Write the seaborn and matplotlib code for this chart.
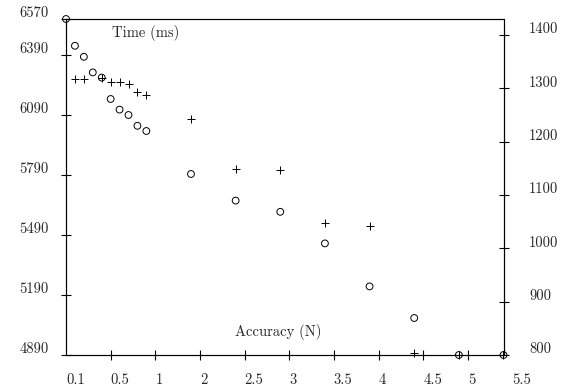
import matplotlib
matplotlib.use('Agg')
import matplotlib.pyplot as plt
import matplotlib.transforms as mtransforms
import seaborn as sns
import numpy as np
import pandas as pd

# accuracy values (x) and the two measured series
acc_time = [0.1, 0.2, 0.3, 0.4, 0.5, 0.6, 0.7, 0.8, 0.9, 1.0,
            1.5, 2.0, 2.5, 3.0, 3.5, 4.0, 4.5, 5.0]
time_ms = [6570, 6436, 6381, 6303, 6277, 6170, 6117, 6090, 6036, 6010,
           5795, 5662, 5606, 5448, 5233, 5075, 4890, 4890]

acc_n = [0.2, 0.3, 0.5, 0.6, 0.7, 0.8, 0.9, 1.0,
         1.5, 2.0, 2.5, 3.0, 3.5, 4.0, 4.5, 5.0]
n_vals = [1317, 1317, 1320, 1312, 1312, 1309, 1294, 1288,
          1242, 1149, 1146, 1047, 1042, 803, 800, 800]

left_ticks = [4890, 5190, 5490, 5790, 6090, 6390, 6570]
right_ticks = [800, 900, 1000, 1100, 1200, 1300, 1400]
x_labels = ['0.1', '0.5', '1', '2', '2.5', '3', '3.5', '4', '4.5', '5', '5.5']

df_time = pd.DataFrame({'acc': acc_time, 'time': time_ms})
df_n = pd.DataFrame({'acc': acc_n, 'n': n_vals})

sns.set_style('ticks')
plt.rcParams['font.family'] = ['cmr10', 'DejaVu Serif']
plt.rcParams['axes.formatter.use_mathtext'] = True
plt.rcParams['axes.linewidth'] = 0.8

FS = 10.5

fig = plt.figure(figsize=(5.78, 3.9), dpi=100)
ax = fig.add_axes([66 / 578, 35 / 390, 437.5 / 578, 336 / 390])
ax2 = ax.twinx()

sns.scatterplot(data=df_time, x='acc', y='time', marker='o', s=24,
                facecolor='none', edgecolor='black', linewidth=0.7, ax=ax)
sns.scatterplot(data=df_n, x='acc', y='n', marker='+', s=30,
                color='black', linewidth=0.7, ax=ax2)
for a in (ax, ax2):
    for c in a.collections:
        c.set_clip_on(False)

ax.set_xlim(0.1, 5.0)
ax.set_ylim(4890, 6570)
ax2.set_ylim(800, 1430)

ax.set_xticks(np.arange(0.6, 4.7, 0.5))
ax.set_xticklabels([])
ax.set_yticks(left_ticks)
ax.set_yticklabels([str(v) for v in left_ticks], fontsize=FS)
ax2.set_yticks(right_ticks)
ax2.set_yticklabels([str(v) for v in right_ticks], fontsize=FS)

ax.tick_params(axis='both', direction='inout', length=7, width=0.8, color='black')
ax.tick_params(axis='y', pad=9)
ax2.tick_params(axis='y', direction='inout', length=7, width=0.8, pad=15, color='black')

# tick labels sit a little above their ticks
shift = mtransforms.ScaledTranslation(0, 7 / 100, fig.dpi_scale_trans)
for lab in ax.get_yticklabels() + ax2.get_yticklabels():
    lab.set_transform(lab.get_transform() + shift)

# x labels, left aligned, not tied to the tick marks
for pos, lab in zip(np.arange(0.1, 5.2, 0.5), x_labels):
    ax.text(pos, -0.075, lab, transform=ax.get_xaxis_transform(),
            ha='left', va='center', fontsize=FS, clip_on=False)

for a in (ax, ax2):
    for sp in a.spines.values():
        sp.set_visible(True)
        sp.set_linewidth(0.8)
        sp.set_color('black')

ax.set_ylabel('Time (ms)', rotation=0, fontsize=FS, ha='center', va='center')
ax.yaxis.set_label_coords(0.183, 0.958)
ax.set_xlabel('Accuracy (N)', fontsize=FS, ha='center', va='center')
ax.xaxis.set_label_coords(0.485, 0.068)
ax2.set_ylabel('')

fig.savefig('out.png', dpi=100)
plt.close()
